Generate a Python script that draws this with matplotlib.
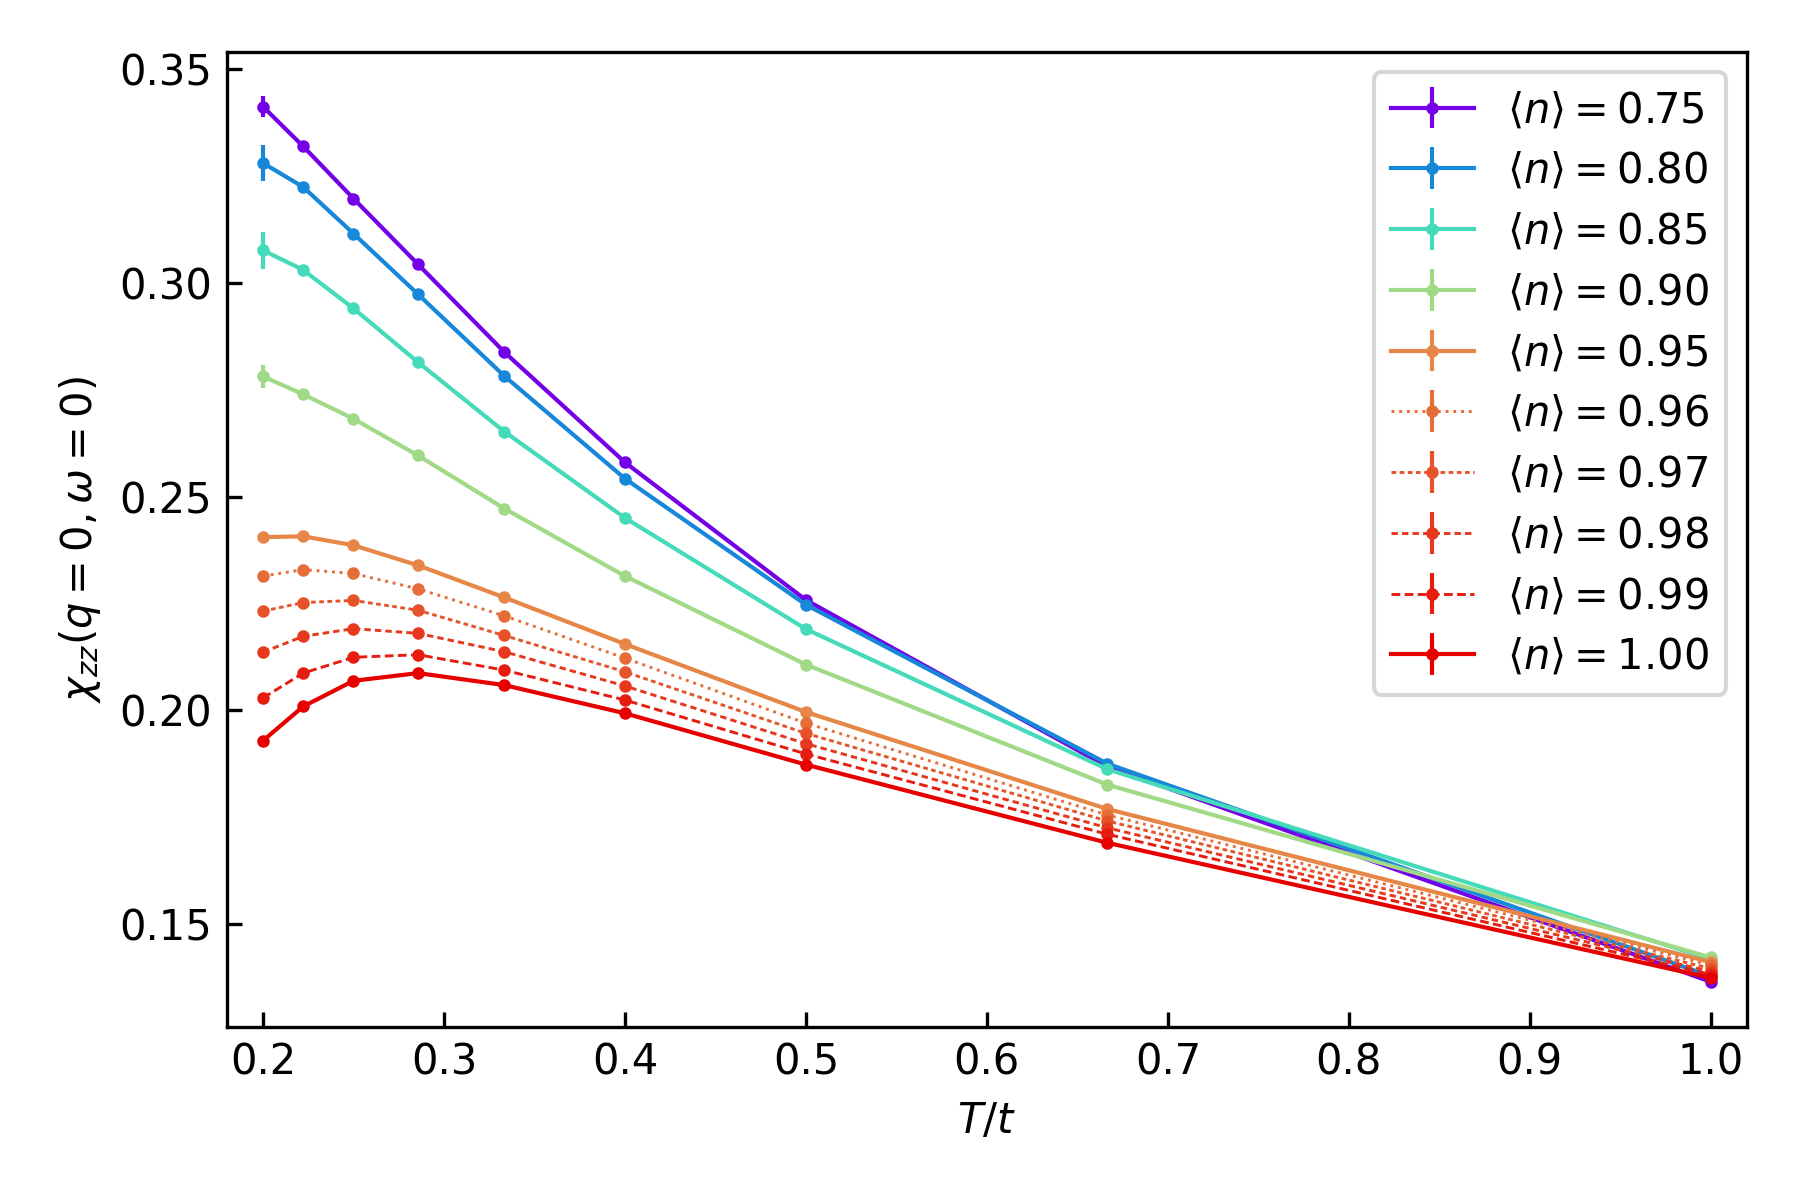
import numpy as np
import matplotlib
matplotlib.use('Agg')
import matplotlib.pyplot as plt

# Data
T = [1/5, 1/4.5, 1/4, 1/3.5, 1/3, 1/2.5, 1/2, 1/1.5, 1.0]
densities = [0.75, 0.80, 0.85, 0.90, 0.95, 0.96, 0.97, 0.98, 0.99, 1.00]
chi = {
    0.75: [0.3412, 0.3319, 0.3197, 0.3043, 0.2838, 0.2580, 0.2258, 0.1868, 0.1365],
    0.80: [0.3280, 0.3224, 0.3115, 0.2973, 0.2782, 0.2542, 0.2247, 0.1875, 0.1378],
    0.85: [0.3076, 0.3030, 0.2940, 0.2814, 0.2652, 0.2450, 0.2190, 0.1862, 0.1418],
    0.90: [0.2781, 0.2739, 0.2682, 0.2596, 0.2472, 0.2314, 0.2107, 0.1826, 0.1422],
    0.95: [0.2405, 0.2407, 0.2386, 0.2339, 0.2264, 0.2155, 0.1996, 0.1769, 0.1411],
    0.96: [0.2314, 0.2329, 0.2320, 0.2284, 0.2221, 0.2122, 0.1970, 0.1755, 0.1404],
    0.97: [0.2232, 0.2252, 0.2257, 0.2234, 0.2175, 0.2090, 0.1946, 0.1741, 0.1396],
    0.98: [0.2136, 0.2173, 0.2191, 0.2180, 0.2137, 0.2057, 0.1922, 0.1725, 0.1389],
    0.99: [0.2029, 0.2087, 0.2124, 0.2130, 0.2094, 0.2024, 0.1898, 0.1710, 0.1382],
    1.00: [0.1929, 0.2009, 0.2069, 0.2087, 0.2059, 0.1993, 0.1873, 0.1690, 0.1374],
}
# error bars (only visible at the lowest T for the low densities)
err_lowT = {0.75: 0.0025, 0.80: 0.0042, 0.85: 0.0043, 0.90: 0.0026, 0.95: 0.0006,
            0.96: 0.0006, 0.97: 0.0005, 0.98: 0.0005, 0.99: 0.0005, 1.00: 0.0004}

styles = {0.96: ':', 0.97: (0, (1.6, 1.2)), 0.98: (0, (2.2, 1.4)), 0.99: (0, (3.0, 1.5))}

fig, ax = plt.subplots(figsize=(6, 4), dpi=300)
fig.subplots_adjust(left=0.126, right=0.9705, bottom=0.144, top=0.957)

cmap = plt.get_cmap('rainbow')
for n in densities:
    c = np.array(cmap((n - 0.75) / 0.25)[:3]) * 0.9
    yerr = np.array([err_lowT[n], err_lowT[n] * 0.2] + [err_lowT[n] * 0.1] * 7)
    ls = styles.get(n, '-')
    lw = 1.0 if ls == '-' else 0.7
    ax.errorbar(T, chi[n], yerr=yerr, color=c, linestyle=ls, linewidth=lw,
                elinewidth=1.0, marker='o', markersize=2,
                label=r'$\langle n \rangle = %.2f$' % n)

ax.set_xlim(0.18, 1.02)
ax.set_xlabel(r'$T/t$')
ax.set_ylabel(r'$\chi_{zz}(q=0,\omega=0)$')
ax.tick_params(direction='in')
ax.legend(loc='upper right', labelspacing=0.45)
plt.savefig('out.png', dpi=300)
